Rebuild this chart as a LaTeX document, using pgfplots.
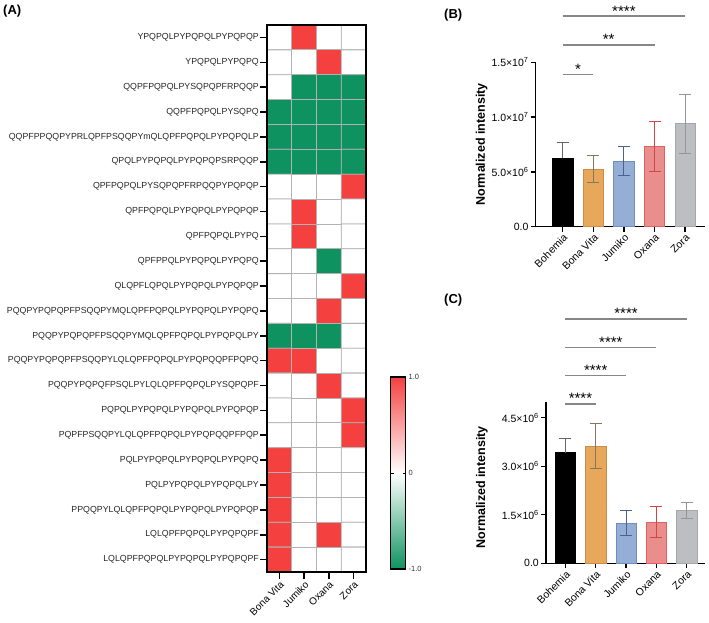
\documentclass[border=0pt]{standalone}
\usepackage{fontspec}
\setmainfont{Liberation Sans}
\usepackage{pgfplots}
\pgfplotsset{compat=1.18}
\definecolor{cBV}{RGB}{232,168,92}
\definecolor{cBVd}{RGB}{205,140,70}
\definecolor{cBVe}{RGB}{135,118,98}
\definecolor{cJU}{RGB}{148,174,213}
\definecolor{cJUd}{RGB}{110,142,192}
\definecolor{cJUe}{RGB}{72,100,140}
\definecolor{cOX}{RGB}{233,142,140}
\definecolor{cOXd}{RGB}{222,96,96}
\definecolor{cOXe}{RGB}{208,70,70}
\definecolor{cZO}{RGB}{188,190,193}
\definecolor{cZOd}{RGB}{165,167,170}
\definecolor{cZOe}{RGB}{150,150,150}
\definecolor{sig}{RGB}{135,135,135}
\tikzset{
  sigl/.style={sig, line width=1.2pt},
  sigt/.style={midway, anchor=base, inner sep=0pt, black, font=\fontsize{15}{15}\selectfont},
}
\pgfplotsset{
  barax/.style={
    scale only axis, ymin=0,
    axis x line*=bottom, axis y line*=left,
    axis line style={line width=1.4pt},
    xtick={0,1,2,3,4}, xticklabels={Bohemia,Bona Vita,Jumiko,Oxana,Zora},
    xticklabel style={rotate=45, anchor=north east, inner sep=1pt, font=\fontsize{10.5}{12}\selectfont},
    yticklabel style={font=\fontsize{10.5}{12}\selectfont, inner sep=2pt},
    scaled y ticks=false,
    tick align=outside, major tick length=5pt,
    tick style={black, line width=1.3pt},
    ybar, bar width=20.5pt, bar shift=0pt,
    clip=false,
  },
  eb/.style={error bars/.cd, y dir=both, y explicit,
    error bar style={color=#1, line width=1pt},
    error mark=-,
    error mark options={rotate=90, mark size=6pt, line width=1pt, color=#1}},
  ebp/.style={error bars/.cd, y dir=plus, y explicit,
    error bar style={color=#1, line width=1pt},
    error mark=-,
    error mark options={rotate=90, mark size=6pt, line width=1pt, color=#1}},
}
\begin{document}
\begin{tikzpicture}
\useasboundingbox (0,0) rectangle (709pt,622pt);
% ---------------- (A) heatmap
\begin{axis}[
  at={(267pt,50pt)}, anchor=south west,
  width=99pt, height=547pt, scale only axis,
  xmin=-0.5, xmax=3.5, ymin=0.5, ymax=22.5, y dir=reverse,
  xtick={0,1,2,3}, xticklabels={Bona Vita,Jumiko,Oxana,Zora},
  xticklabel style={rotate=45, anchor=north east, inner sep=1pt, font=\fontsize{10}{12}\selectfont},
  ytick={1,...,22},
  yticklabels={YPQPQLPYPQPQLPYPQPQP,YPQPQLPYPQPQ,QQPFPQPQLPYSQPQPFRPQQP,QQPFPQPQLPYSQPQ,QQPFPPQQPYPRLQPFPSQQPYmQLQPFPQPQLPYPQPQLP,QPQLPYPQPQLPYPQPQPSRPQQP,QPFPQPQLPYSQPQPFRPQQPYPQPQP,QPFPQPQLPYPQPQLPYPQPQP,QPFPQPQLPYPQ,QPFPPQLPYPQPQLPYPQPQ,QLQPFLQPQLPYPQPQLPYPQPQP,PQQPYPQPQPFPSQQPYMQLQPFPQPQLPYPQPQLPYPQPQ,PQQPYPQPQPFPSQQPYMQLQPFPQPQLPYPQPQLPY,PQQPYPQPQPFPSQQPYLQLQPFPQPQLPYPQPQQPFPQPQ,PQQPYPQPQFPSQLPYLQLQPFPQPQLPYSQPQPF,PQPQLPYPQPQLPYPQPQLPYPQPQP,PQPFPSQQPYLQLQPFPQPQLPYPQPQQPFPQP,PQLPYPQPQLPYPQPQLPYPQPQ,PQLPYPQPQLPYPQPQLPY,PPQQPYLQLQPFPQPQLPYPQPQLPYPQPQP,LQLQPFPQPQLPYPQPQPF,LQLQPFPQPQLPYPQPQLPYPQPQPF},
  yticklabel style={font=\fontsize{8.8}{10}\selectfont, inner sep=1pt, text=black!85},
  tick align=outside, xtick pos=bottom, ytick pos=left,
  major tick length=7pt,
  tick style={black, line width=1.6pt},
  axis line style={line width=1.6pt},
  colormap={rwg}{rgb255=(14,146,96) rgb255=(255,255,255) rgb255=(245,64,64)},
  point meta min=-1, point meta max=1,
  colorbar,
  colorbar style={
    at={(parent axis.south east)}, anchor=south west, xshift=16pt, yshift=3pt,
    scale only axis, width=15pt, height=192pt,
    ytick={-1,0,1}, yticklabels={-1.0,0,1.0},
    yticklabel style={font=\fontsize{7.5}{9}\selectfont, text=black!80, inner sep=3pt},
    axis line style={line width=1.4pt},
    tick align=inside, major tick length=3pt,
    tick style={black, line width=1pt},
  },
  axis on top,
]
\addplot[matrix plot*, mesh/cols=4, point meta=explicit, draw=black!30, line width=0.8pt] table[meta=c] {
x y c
0 1 0
1 1 1
2 1 0
3 1 0
0 2 0
1 2 0
2 2 1
3 2 0
0 3 0
1 3 -1
2 3 -1
3 3 -1
0 4 -1
1 4 -1
2 4 -1
3 4 -1
0 5 -1
1 5 -1
2 5 -1
3 5 -1
0 6 -1
1 6 -1
2 6 -1
3 6 -1
0 7 0
1 7 0
2 7 0
3 7 1
0 8 0
1 8 1
2 8 0
3 8 0
0 9 0
1 9 1
2 9 0
3 9 0
0 10 0
1 10 0
2 10 -1
3 10 0
0 11 0
1 11 0
2 11 0
3 11 1
0 12 0
1 12 0
2 12 1
3 12 0
0 13 -1
1 13 -1
2 13 -1
3 13 0
0 14 1
1 14 1
2 14 0
3 14 0
0 15 0
1 15 0
2 15 1
3 15 0
0 16 0
1 16 0
2 16 0
3 16 1
0 17 0
1 17 0
2 17 0
3 17 1
0 18 1
1 18 0
2 18 0
3 18 0
0 19 1
1 19 0
2 19 0
3 19 0
0 20 1
1 20 0
2 20 0
3 20 0
0 21 1
1 21 0
2 21 1
3 21 0
0 22 1
1 22 0
2 22 0
3 22 0
};
\end{axis}
% ---------------- (B)
\begin{axis}[barax,
  at={(535.7pt,395.3pt)}, anchor=south west, width=169.3pt, height=164.4pt,
  xmin=-0.883, xmax=4.65, ymax=1.5e7,
  ytick={0,5e6,1e7,1.5e7},
  yticklabels={0.0,{5.0×10\textsuperscript{6}},{1.0×10\textsuperscript{7}},{1.5×10\textsuperscript{7}}},
  ylabel={Normalized intensity},
  every axis y label/.style={at={(axis description cs:-0.319,0.5)}, rotate=90, anchor=center, font=\bfseries\fontsize{12.5}{14}\selectfont},
]
\addplot[fill=black, draw=black, line width=0.6pt, ebp=black!60] coordinates {(0,6.26e6) +- (0,1.42e6)};
\addplot[fill=cBV, draw=cBVd, line width=0.6pt, eb=cBVe] coordinates {(1,5.25e6) +- (0,1.22e6)};
\addplot[fill=cJU, draw=cJUd, line width=0.6pt, eb=cJUe] coordinates {(2,6.0e6) +- (0,1.33e6)};
\addplot[fill=cOX, draw=cOXd, line width=0.6pt, eb=cOXe] coordinates {(3,7.32e6) +- (0,2.3e6)};
\addplot[fill=cZO, draw=cZOd, line width=0.6pt, eb=cZOe] coordinates {(4,9.39e6) +- (0,2.67e6)};
\draw[sigl] (axis cs:0,1.922e7) -- (axis cs:4,1.922e7) node[sigt] {****};
\draw[sigl] (axis cs:0,1.658e7) -- (axis cs:3,1.658e7) node[sigt] {**};
\draw[sigl] (axis cs:0,1.387e7) -- (axis cs:1,1.387e7) node[sigt] {*};
\end{axis}
% ---------------- (C)
\begin{axis}[barax,
  at={(546pt,58.7pt)}, anchor=south west, width=159pt, height=161.8pt,
  xmin=-0.636, xmax=4.60, ymax=5e6,
  ytick={0,1.5e6,3e6,4.5e6},
  yticklabels={0.0,{1.5×10\textsuperscript{6}},{3.0×10\textsuperscript{6}},{4.5×10\textsuperscript{6}}},
  ylabel={Normalized intensity},
  every axis y label/.style={at={(axis description cs:-0.404,0.47)}, rotate=90, anchor=center, font=\bfseries\fontsize{12.5}{14}\selectfont},
]
\addplot[fill=black, draw=black, line width=0.6pt, ebp=black!60] coordinates {(0,3.42e6) +- (0,0.45e6)};
\addplot[fill=cBV, draw=cBVd, line width=0.6pt, eb=cBVe] coordinates {(1,3.63e6) +- (0,0.70e6)};
\addplot[fill=cJU, draw=cJUd, line width=0.6pt, eb=cJUe] coordinates {(2,1.24e6) +- (0,0.39e6)};
\addplot[fill=cOX, draw=cOXd, line width=0.6pt, eb=cOXe] coordinates {(3,1.27e6) +- (0,0.47e6)};
\addplot[fill=cZO, draw=cZOd, line width=0.6pt, eb=cZOe] coordinates {(4,1.63e6) +- (0,0.26e6)};
\draw[sigl] (axis cs:0,7.551e6) -- (axis cs:4,7.551e6) node[sigt] {****};
\draw[sigl] (axis cs:0,6.676e6) -- (axis cs:3,6.676e6) node[sigt] {****};
\draw[sigl] (axis cs:0,5.798e6) -- (axis cs:2,5.798e6) node[sigt] {****};
\draw[sigl] (axis cs:0,4.924e6) -- (axis cs:1,4.924e6) node[sigt] {****};
\end{axis}
% panel labels
\node[anchor=west, inner sep=0pt, font=\bfseries\fontsize{13}{13}\selectfont] at (3pt,611pt) {(A)};
\node[anchor=west, inner sep=0pt, font=\bfseries\fontsize{13}{13}\selectfont] at (444pt,607pt) {(B)};
\node[anchor=west, inner sep=0pt, font=\bfseries\fontsize{13}{13}\selectfont] at (444pt,322pt) {(C)};
\end{tikzpicture}
\end{document}
